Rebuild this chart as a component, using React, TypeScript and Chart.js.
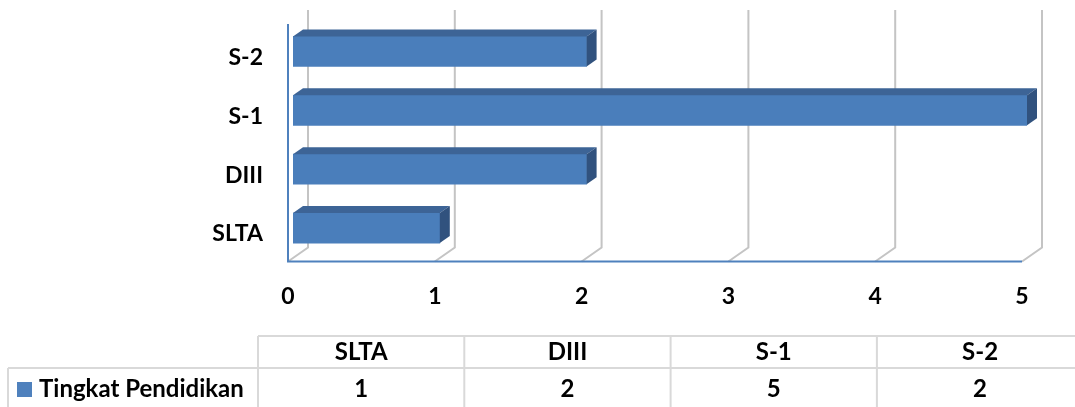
import React, { useEffect, useRef } from 'react';
import { Chart, registerables } from 'chart.js';

Chart.register(...registerables);

// ---- data ----
const categories = ['SLTA', 'DIII', 'S-1', 'S-2'];
const seriesValues = [1, 2, 5, 2];
const xTickValues = [0, 1, 2, 3, 4, 5];
const seriesLabel = 'Tingkat Pendidikan';

// ---- style ----
const FONT = 'Lato, "Open Sans", sans-serif';
const BAR_FRONT = '#4A7EBB';
const BAR_TOP = '#3D6496';
const BAR_SIDE = '#31527E';
const GRID = '#C4C4C4';
const AXIS = '#4F81BD';
const LEGEND_KEY = '#4F81BD';
const TABLE_LINE = '#D9D9D9';
const TEXT = '#000000';

const FLOOR_DX = 20;
const FLOOR_DY = 14;
const BAR_OFF_X = 5;
const BAR_OFF_Y = 4;
const BAR_DX = 10;
const BAR_DY = 7;
const BACK_TOP = 10;

const threeDPlugin = {
  id: 'threeD',
  beforeDatasetsDraw(chart: any) {
    const { ctx, chartArea, scales } = chart;
    const x = scales.x;
    const floorY = chartArea.bottom + BAR_OFF_Y;
    ctx.save();
    ctx.strokeStyle = GRID;
    ctx.lineWidth = 2;
    xTickValues.forEach((v) => {
      const fx = x.getPixelForValue(v) - BAR_OFF_X;
      ctx.beginPath();
      ctx.moveTo(fx, floorY);
      ctx.lineTo(fx + FLOOR_DX, floorY - FLOOR_DY);
      ctx.lineTo(fx + FLOOR_DX, BACK_TOP);
      ctx.stroke();
    });
    const x0 = x.getPixelForValue(xTickValues[0]) - BAR_OFF_X;
    const xN = x.getPixelForValue(xTickValues[xTickValues.length - 1]) - BAR_OFF_X;
    ctx.strokeStyle = AXIS;
    ctx.lineWidth = 2;
    ctx.beginPath();
    ctx.moveTo(x0, BACK_TOP + FLOOR_DY);
    ctx.lineTo(x0, floorY);
    ctx.lineTo(xN, floorY);
    ctx.stroke();
    ctx.restore();
  },
  afterDatasetsDraw(chart: any) {
    const { ctx } = chart;
    const meta = chart.getDatasetMeta(0);
    ctx.save();
    meta.data.forEach((bar: any) => {
      const p = bar.getProps(['x', 'y', 'base', 'height'], true);
      const top = p.y - p.height / 2;
      const bottom = p.y + p.height / 2;
      const left = Math.min(p.base, p.x);
      const right = Math.max(p.base, p.x);
      ctx.fillStyle = BAR_TOP;
      ctx.beginPath();
      ctx.moveTo(left, top);
      ctx.lineTo(left + BAR_DX, top - BAR_DY);
      ctx.lineTo(right + BAR_DX, top - BAR_DY);
      ctx.lineTo(right, top);
      ctx.closePath();
      ctx.fill();
      ctx.fillStyle = BAR_SIDE;
      ctx.beginPath();
      ctx.moveTo(right, top);
      ctx.lineTo(right + BAR_DX, top - BAR_DY);
      ctx.lineTo(right + BAR_DX, bottom - BAR_DY);
      ctx.lineTo(right, bottom);
      ctx.closePath();
      ctx.fill();
    });
    ctx.restore();
  },
  afterDraw(chart: any) {
    const { ctx, scales } = chart;
    const x = scales.x;
    const y = scales.y;
    ctx.save();
    ctx.fillStyle = TEXT;
    ctx.textBaseline = 'middle';
    ctx.font = `bold 23px ${FONT}`;
    ctx.textAlign = 'right';
    categories.forEach((c, i) => {
      ctx.fillText(c, 263, y.getPixelForValue(i) + 6);
    });
    ctx.textAlign = 'center';
    xTickValues.forEach((v) => {
      ctx.fillText(String(v), x.getPixelForValue(v) - BAR_OFF_X, 297);
    });

    // data table
    const colStart = 258;
    const colW = 206.3;
    const headTop = 336;
    const sep = 368;
    const tableBottom = 410;
    ctx.strokeStyle = TABLE_LINE;
    ctx.lineWidth = 2;
    ctx.beginPath();
    ctx.moveTo(colStart, headTop);
    ctx.lineTo(1075, headTop);
    ctx.moveTo(8, sep);
    ctx.lineTo(1075, sep);
    ctx.moveTo(8, sep);
    ctx.lineTo(8, tableBottom);
    for (let i = 0; i <= categories.length; i++) {
      const cx = colStart + colW * i;
      ctx.moveTo(cx, headTop);
      ctx.lineTo(cx, tableBottom);
    }
    ctx.stroke();

    ctx.fillStyle = TEXT;
    ctx.font = `bold 24px ${FONT}`;
    ctx.textAlign = 'center';
    categories.forEach((c, i) => {
      const cx = colStart + colW * (i + 0.5);
      ctx.fillText(c, cx, 352);
      ctx.fillText(String(seriesValues[i]), cx, 389);
    });
    ctx.fillStyle = LEGEND_KEY;
    ctx.fillRect(17, 382, 15, 15);
    ctx.fillStyle = TEXT;
    ctx.textAlign = 'left';
    ctx.fillText(seriesLabel, 39, 389);
    ctx.restore();
  },
};

export default function App() {
  const canvasRef = useRef<HTMLCanvasElement | null>(null);

  useEffect(() => {
    document.body.style.margin = '0';
    const canvas = canvasRef.current;
    if (!canvas) return;
    const chart = new Chart(canvas, {
      type: 'bar',
      data: {
        labels: categories,
        datasets: [
          {
            label: seriesLabel,
            data: seriesValues,
            backgroundColor: BAR_FRONT,
            borderWidth: 0,
            barThickness: 30,
          },
        ],
      },
      options: {
        indexAxis: 'y',
        responsive: false,
        animation: false,
        layout: { padding: { left: 293, right: 48, top: 22, bottom: 149.5 } },
        scales: {
          x: { display: false, min: 0, max: 5 },
          y: { display: false, reverse: true },
        },
        plugins: {
          legend: { display: false },
          tooltip: { enabled: false },
        },
      },
      plugins: [threeDPlugin],
    });
    return () => chart.destroy();
  }, []);

  return (
    <div style={{ position: 'absolute', left: 0, top: 0, width: 1075, height: 407, background: '#fff' }}>
      <canvas ref={canvasRef} width={1075} height={407} />
    </div>
  );
}
